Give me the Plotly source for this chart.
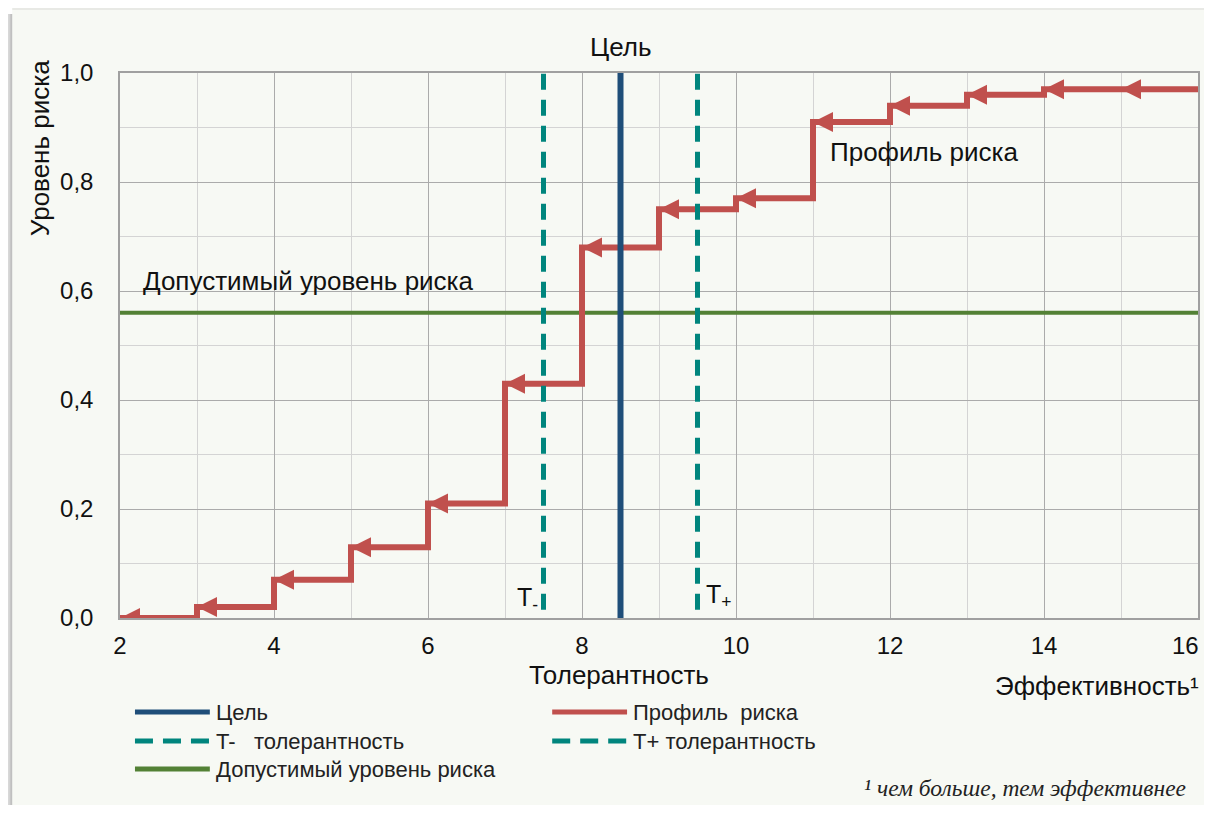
import plotly.graph_objects as go

# ---- data ----
step_x = [2, 3, 4, 5, 6, 7, 8, 9, 10, 11, 12, 13, 14, 15, 16]
step_levels = [0.0, 0.02, 0.07, 0.13, 0.21, 0.43, 0.68, 0.75, 0.77, 0.91, 0.94, 0.96, 0.97, 0.97]
target_x = 8.5
t_minus_x = 7.5
t_plus_x = 9.5
acceptable_risk = 0.56
x_range = [2, 16]
y_range = [0, 1.0]
last_tick_label = "16"

legend_items = [
    ("Цель", "#1f4e79", "solid"),
    ("Профиль  риска", "#c0504d", "solid"),
    ("T-   толерантность", "#00857d", "dash"),
    ("T+ толерантность", "#00857d", "dash"),
    ("Допустимый уровень риска", "#538135", "solid"),
]

# page body margin of the browser (8px) is accounted for
OFF = 8
W, H = 1212 - 2 * OFF, 813 - 2 * OFF
ML, MT = 120 - OFF, 73 - OFF
MR = W - (1200 - OFF)
MB = H - (618 - OFF)
PW, PH = W - ML - MR, H - MT - MB


def px2x(px):
    return (px - OFF - ML) / PW


def px2y(py):
    return (H - MB - (py - OFF)) / PH


RED = "#c0504d"
BLUE = "#1f4e79"
TEAL = "#00857d"
GREEN = "#538135"
FONT = "Liberation Sans, Arial, sans-serif"
TXT = "#111111"

fig = go.Figure()

# acceptable risk line
fig.add_trace(go.Scatter(x=x_range, y=[acceptable_risk, acceptable_risk], mode="lines",
                         line=dict(color=GREEN, width=4), hoverinfo="skip", showlegend=False))

# risk profile step line
step_y = step_levels + [step_levels[-1]]
fig.add_trace(go.Scatter(x=step_x, y=step_y, mode="lines", line=dict(color=RED, width=6, shape="hv"),
                         hoverinfo="skip", showlegend=False))
# arrow heads at left ends
fig.add_trace(go.Scatter(x=step_x[:-1], y=step_levels, mode="markers",
                         marker=dict(symbol="arrow-left", size=20, color=RED, line=dict(width=0)),
                         hoverinfo="skip", showlegend=False))

# tolerance lines
for tx in (t_minus_x, t_plus_x):
    fig.add_trace(go.Scatter(x=[tx, tx], y=[0.015, 1.0], mode="lines",
                             line=dict(color=TEAL, width=5, dash="16px,10px"),
                             hoverinfo="skip", showlegend=False))
# target line
fig.add_trace(go.Scatter(x=[target_x, target_x], y=y_range, mode="lines",
                         line=dict(color=BLUE, width=6), hoverinfo="skip", showlegend=False))

shapes = []
# page background + shadow
shapes.append(dict(type="rect", xref="paper", yref="paper", layer="below",
                   x0=px2x(12), x1=px2x(1240), y0=px2y(840), y1=px2y(8),
                   fillcolor="#f7f9f4", line=dict(width=0)))
for i, op in enumerate([0.08, 0.16, 0.26, 0.38]):
    shapes.append(dict(type="rect", xref="paper", yref="paper", layer="below",
                       x0=px2x(4 + 2 * i), x1=px2x(6 + 2 * i), y0=px2y(840), y1=px2y(14),
                       fillcolor=f"rgba(90,90,90,{op})", line=dict(width=0)))
for i, op in enumerate([0.04, 0.08, 0.12]):
    shapes.append(dict(type="rect", xref="paper", yref="paper", layer="below",
                       x0=px2x(12), x1=px2x(1240), y0=px2y(6 + 2 * i), y1=px2y(4 + 2 * i),
                       fillcolor=f"rgba(120,120,120,{op})", line=dict(width=0)))

annotations = []
# custom legend
leg_pos = [(135, 712), (553, 712), (135, 741), (553, 741), (135, 769)]
for (label, color, dash), (lx, ly) in zip(legend_items, leg_pos):
    shapes.append(dict(type="line", xref="paper", yref="paper",
                       x0=px2x(lx), x1=px2x(lx + 75), y0=px2y(ly), y1=px2y(ly),
                       line=dict(color=color, width=5, dash="18px,10px" if dash == "dash" else "solid")))
    annotations.append(dict(xref="paper", yref="paper", x=px2x(lx + 79), y=px2y(ly), text=label,
                            showarrow=False, xanchor="left", yanchor="middle",
                            font=dict(family=FONT, size=22, color="#222222")))

annotations += [
    # last x tick label, which sits at the very edge of the page
    dict(xref="paper", yref="paper", x=px2x(1203.5), y=px2y(645), text=last_tick_label, showarrow=False,
         xanchor="right", yanchor="middle", font=dict(family=FONT, size=24, color=TXT)),
    dict(xref="x", yref="paper", x=target_x, y=px2y(47), text="Цель", showarrow=False,
         xanchor="center", yanchor="middle", font=dict(family=FONT, size=26, color=TXT)),
    dict(xref="x", yref="y", x=11.2, y=0.855, text="Профиль риска", showarrow=False,
         xanchor="left", yanchor="middle", font=dict(family=FONT, size=26, color=TXT)),
    dict(xref="x", yref="y", x=2.27, y=0.618, text="Допустимый уровень риска", showarrow=False,
         xanchor="left", yanchor="middle", font=dict(family=FONT, size=26, color=TXT)),
    dict(xref="x", yref="y", x=t_minus_x, y=0.035, text="T<sub>-</sub>", showarrow=False,
         xanchor="right", yanchor="middle", xshift=-4, font=dict(family=FONT, size=25, color=TXT)),
    dict(xref="x", yref="y", x=t_plus_x, y=0.04, text="T<sub>+</sub>", showarrow=False,
         xanchor="left", yanchor="middle", xshift=6, font=dict(family=FONT, size=25, color=TXT)),
    dict(xref="paper", yref="paper", x=px2x(620), y=px2y(675), text="Толерантность", showarrow=False,
         xanchor="center", yanchor="middle", font=dict(family=FONT, size=26, color=TXT)),
    dict(xref="paper", yref="paper", x=px2x(1203), y=px2y(686), text="Эффективность¹", showarrow=False,
         xanchor="right", yanchor="middle", font=dict(family=FONT, size=26, color=TXT)),
    dict(xref="paper", yref="paper", x=px2x(40), y=px2y(58), text="Уровень риска", showarrow=False,
         textangle=-90, xanchor="center", yanchor="top", font=dict(family=FONT, size=26, color=TXT)),
    dict(xref="paper", yref="paper", x=px2x(1190), y=px2y(788), text="¹ чем больше, тем эффективнее",
         showarrow=False, xanchor="right", yanchor="middle",
         font=dict(family="Liberation Serif, Times New Roman, serif", size=23.5, color="#222222",
                   style="italic")),
]

fig.update_layout(
    width=W, height=H,
    margin=dict(l=ML, r=MR, t=MT, b=MB),
    paper_bgcolor="white",
    plot_bgcolor="white",
    separators=", ",
    showlegend=False,
    shapes=shapes,
    annotations=annotations,
    font=dict(family=FONT, size=24, color=TXT),
)
fig.update_xaxes(range=x_range, dtick=2, tick0=2, showgrid=True, gridcolor="#ababab", gridwidth=1,
                 minor=dict(dtick=1, showgrid=True, gridcolor="#d4d4d4", gridwidth=1),
                 showline=True, linecolor="#a0a0a0", linewidth=1.5, mirror=True,
                 zeroline=False, ticks="", ticklabelstandoff=5,
                 tickfont=dict(family=FONT, size=24, color=TXT))
fig.update_yaxes(range=y_range, dtick=0.2, tick0=0, tickformat=".1f", showgrid=True, gridcolor="#ababab",
                 gridwidth=1, minor=dict(dtick=0.1, showgrid=True, gridcolor="#d4d4d4", gridwidth=1),
                 showline=True, linecolor="#a0a0a0", linewidth=1.5, mirror=True,
                 zeroline=False, ticks="", ticklabelstandoff=20,
                 tickfont=dict(family=FONT, size=24, color=TXT))

fig.write_html("out.html")
